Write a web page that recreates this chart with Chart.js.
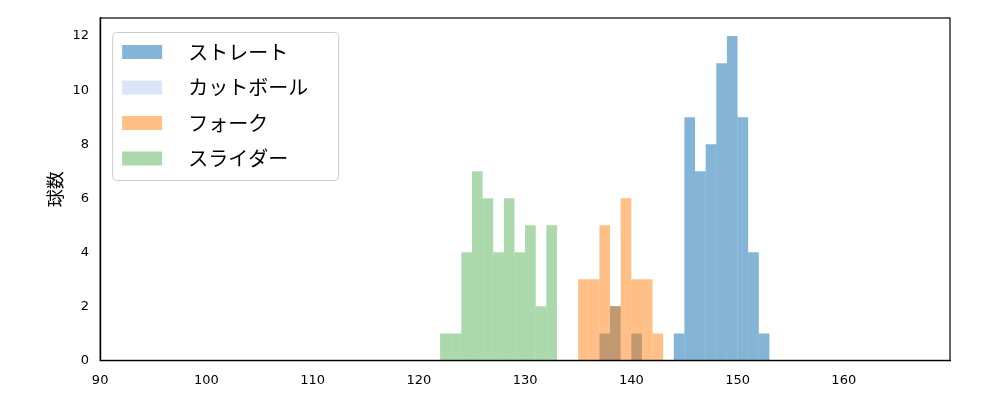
<!DOCTYPE html>
<html><head><meta charset="utf-8">
<script src="https://cdn.jsdelivr.net/npm/chart.js@4"></script>
<style>body{margin:0;background:#fff}#wrap{width:1000px;height:400px}</style>
</head><body><div id="wrap"><canvas id="c"></canvas></div>
<script>
const labels = ['ストレート', 'カットボール', 'フォーク', 'スライダー'];
const straightStart = 137;
const straightCounts = [1, 2, 0, 1, 0, 0, 0, 1, 9, 7, 8, 11, 12, 9, 4, 1];
const cutStart = 0;
const cutCounts = [];
const forkStart = 135;
const forkCounts = [3, 3, 5, 2, 6, 3, 3, 1];
const sliderStart = 122;
const sliderCounts = [1, 1, 4, 7, 6, 4, 6, 4, 5, 2, 5];
const xTicks = [90, 100, 110, 120, 130, 140, 150, 160];

function bins(start, counts) {
  return counts.map((c, i) => ({x: start + i + 0.5, y: c})).filter(p => p.y > 0);
}
const colors = ['rgba(31,119,180,0.55)', 'rgba(174,199,232,0.45)', 'rgba(255,127,14,0.5)', 'rgba(44,160,44,0.4)'];
const series = [bins(straightStart, straightCounts), bins(cutStart, cutCounts), bins(forkStart, forkCounts), bins(sliderStart, sliderCounts)];

const boxLegend = {
  id: 'boxLegend',
  afterDraw(chart) {
    const c = chart.ctx, a = chart.chartArea;
    const x0 = a.left + 12, y0 = a.top + 14;
    c.save();
    c.fillStyle = 'rgba(255,255,255,0.8)';
    c.strokeStyle = '#cccccc';
    c.lineWidth = 1;
    c.beginPath();
    c.roundRect(x0 + 0.5, y0 + 0.5, 226, 148, 4);
    c.fill(); c.stroke();
    c.font = '20px "Noto Sans CJK JP"';
    c.textBaseline = 'middle';
    chart.data.datasets.forEach((d, i) => {
      const y = y0 + 20 + i * 35.5;
      c.fillStyle = d.backgroundColor;
      c.fillRect(x0 + 10, y - 7, 40, 14);
      c.fillStyle = '#000';
      c.fillText(d.label, x0 + 76, y);
    });
    c.restore();
  }
};

new Chart(document.getElementById('c'), {
  type: 'bar',
  data: {
    datasets: labels.map((l, i) => ({
      label: l, data: series[i], backgroundColor: colors[i], order: 4 - i,
      barPercentage: 1, categoryPercentage: 1, grouped: false, borderWidth: 0, inflateAmount: 0
    }))
  },
  options: {
    responsive: true, maintainAspectRatio: false, animation: false,
    layout: {padding: {left: 40, right: 50, top: 18, bottom: 8}},
    plugins: {legend: {display: false}, tooltip: {enabled: false}},
    scales: {
      x: {
        type: 'linear', min: 90, max: 170, offset: false,
        grid: {display: false, drawTicks: true},
        border: {color: '#000', width: 1.2},
        afterBuildTicks: s => { s.ticks = xTicks.map(v => ({value: v})); },
        ticks: {color: '#000', font: {size: 13, family: 'DejaVu Sans'}, padding: 4},
      },
      y: {
        min: 0, max: 12.67,
        grid: {display: false},
        border: {color: '#000', width: 1.2},
        afterBuildTicks: s => { s.ticks = [0, 2, 4, 6, 8, 10, 12].map(v => ({value: v})); },
        ticks: {color: '#000', font: {size: 13, family: 'DejaVu Sans'}},
        title: {display: true, text: '球数', color: '#000', font: {size: 18, family: 'Noto Sans CJK JP'}}
      }
    }
  },
  plugins: [boxLegend, {
    id: 'frame',
    afterDraw(chart) {
      const c = chart.ctx, a = chart.chartArea;
      c.save(); c.strokeStyle = '#000'; c.lineWidth = 1.2;
      c.strokeRect(a.left, a.top, a.right - a.left, a.bottom - a.top);
      c.restore();
    }
  }]
});
</script></body></html>
